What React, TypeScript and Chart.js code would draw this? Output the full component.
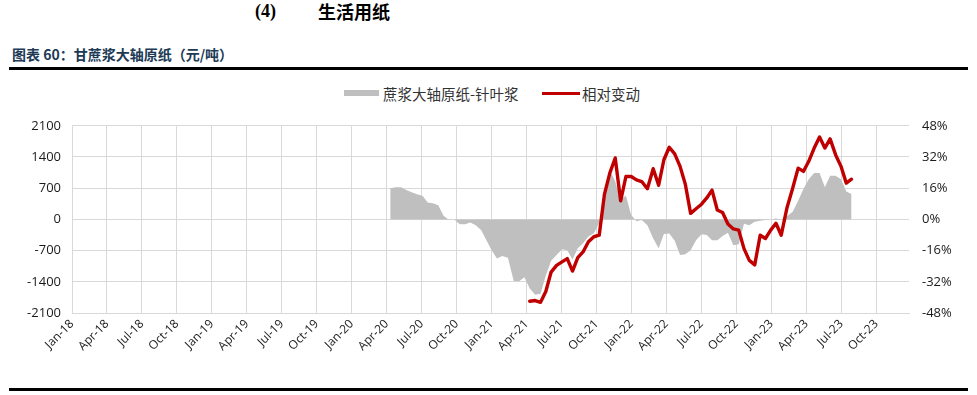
import React, { useEffect, useRef } from "react";
import { Chart, registerables } from "chart.js";

Chart.register(...registerables);

// ---- data ----
const xTickLabels = [
  "Jan-18", "Apr-18", "Jul-18", "Oct-18",
  "Jan-19", "Apr-19", "Jul-19", "Oct-19",
  "Jan-20", "Apr-20", "Jul-20", "Oct-20",
  "Jan-21", "Apr-21", "Jul-21", "Oct-21",
  "Jan-22", "Apr-22", "Jul-22", "Oct-22",
  "Jan-23", "Apr-23", "Jul-23", "Oct-23",
];
const leftTicks = [-2100, -1400, -700, 0, 700, 1400, 2100];
const rightTicks = [-48, -32, -16, 0, 16, 32, 48];

const graySeriesName = "蔗浆大轴原纸-针叶浆";
const redSeriesName = "相对变动";

const grayStart = "2020-04-10";
const redStart = "2021-04-09";
const stepDays = 14;

// 蔗浆大轴原纸-针叶浆 (元/吨), biweekly
const grayValues = [
  700, 720, 720, 660, 610, 565, 530, 380, 360, 320,
  80, -15, 0, -110, -110, -70, -130, -240, -470, -690,
  -880, -820, -860, -1380, -1390, -1300, -1550, -1690, -1670, -1260,
  -930, -800, -670, -690, -900, -650, -535, -385, -310, -80,
  595, 1100, 850, 450, 530, 100, -40, -15, -130, -430,
  -650, -330, -315, -480, -800, -780, -690, -470, -335, -350,
  -470, -470, -370, -300, -580, -560, -100, -130, -50, -30,
  -15, 0, 20, 0, 70, 170, 420, 680, 900, 1040,
  1040, 720, 980, 980, 900, 625, 570,
];

// 相对变动 (%), biweekly
const redValues = [
  -42.0, -41.6, -42.5, -37, -27, -23.6, -21.8, -20.1, -26.5, -19.6,
  -16.7, -11.5, -8.9, -8.1, 13, 23.7, 31.5, 9.5, 22, 22,
  20.3, 19.4, 15.7, 26, 17.5, 30.6, 37, 33.6, 27.2, 18,
  3.1, 5.5, 7.8, 11, 15, 4.8, 3.5, -2.4, -4.9, -5.5,
  -15, -21, -23.3, -8.1, -9.8, -5.5, -2, -8.1, 5.7, 16,
  26.3, 24.6, 29.8, 36.6, 42.3, 36.6, 41.3, 33.2, 27.2, 18.6,
  20.6,
];

function monthsSince2018(iso: string, offsetDays: number): number {
  const d = new Date(iso + "T00:00:00Z");
  d.setUTCDate(d.getUTCDate() + offsetDays);
  const y = d.getUTCFullYear();
  const m = d.getUTCMonth();
  const day = d.getUTCDate();
  const dim = new Date(Date.UTC(y, m + 1, 0)).getUTCDate();
  return (y - 2018) * 12 + m + (day - 1) / dim;
}

const FONT = "'Open Sans', 'DejaVu Sans', sans-serif";
const CJK = "'Noto Sans CJK SC', 'Noto Sans', sans-serif";
const GRID = "#d9d9d9";

export default function App() {
  const canvasRef = useRef<HTMLCanvasElement | null>(null);

  useEffect(() => {
    const canvas = canvasRef.current;
    if (!canvas) return;
    const grayPts = grayValues.map((v, i) => ({ x: monthsSince2018(grayStart, i * stepDays), y: v }));
    const redPts = redValues.map((v, i) => ({ x: monthsSince2018(redStart, i * stepDays), y: v }));
    const tickMonths = xTickLabels.map((_, i) => i * 3);

    const chart = new Chart(canvas, {
      type: "line",
      data: {
        datasets: [
          {
            label: redSeriesName,
            data: redPts,
            yAxisID: "yR",
            borderColor: "#c00000",
            borderWidth: 3.4,
            pointRadius: 0,
            fill: false,
            tension: 0,
            order: 0,
            borderJoinStyle: "round",
            borderCapStyle: "round",
          },
          {
            label: graySeriesName,
            data: grayPts,
            yAxisID: "yL",
            borderWidth: 0,
            borderColor: "rgba(0,0,0,0)",
            backgroundColor: "#bfbfbf",
            pointRadius: 0,
            fill: "origin",
            tension: 0,
            order: 1,
          },
        ],
      },
      options: {
        animation: false,
        responsive: false,
        devicePixelRatio: 1,
        layout: { padding: { top: 0, left: 0, right: 0, bottom: 0 } },
        plugins: { legend: { display: false }, tooltip: { enabled: false } },
        scales: {
          x: {
            type: "linear",
            position: "bottom",
            min: 0,
            max: 71.8,
            grid: { color: GRID, lineWidth: 1, drawTicks: false },
            border: { display: true, color: GRID, width: 1 },
            ticks: {
              autoSkip: false,
              maxRotation: 45,
              minRotation: 45,
              padding: 4,
              color: "#1a1a1a",
              font: { family: FONT, size: 12 },
              callback: (v: any) => {
                const idx = Math.round(Number(v) / 3);
                return Number(v) % 3 === 0 && xTickLabels[idx] ? xTickLabels[idx] : "";
              },
            },
            afterBuildTicks: (scale: any) => {
              scale.ticks = tickMonths.map((v) => ({ value: v }));
            },
            afterFit: (scale: any) => {
              scale.height = 67;
            },
          },
          yL: {
            type: "linear",
            position: "left",
            min: leftTicks[0],
            max: leftTicks[leftTicks.length - 1],
            grid: { color: GRID, lineWidth: 1, drawTicks: false },
            border: { display: false },
            ticks: {
              stepSize: 700,
              padding: 11,
              color: "#1a1a1a",
              font: { family: FONT, size: 13 },
              callback: (v: any) => String(v),
            },
            afterBuildTicks: (scale: any) => {
              scale.ticks = leftTicks.map((v) => ({ value: v }));
            },
            afterFit: (scale: any) => {
              scale.width = 72;
            },
          },
          yR: {
            type: "linear",
            position: "right",
            min: rightTicks[0],
            max: rightTicks[rightTicks.length - 1],
            grid: { display: false, drawTicks: false },
            border: { display: false },
            ticks: {
              stepSize: 16,
              padding: 13,
              color: "#1a1a1a",
              font: { family: FONT, size: 13 },
              callback: (v: any) => `${v}%`,
            },
            afterBuildTicks: (scale: any) => {
              scale.ticks = rightTicks.map((v) => ({ value: v }));
            },
            afterFit: (scale: any) => {
              scale.width = 68;
            },
          },
        },
      },
    } as any);
    return () => chart.destroy();
  }, []);

  return (
    <div
      style={{
        position: "absolute",
        left: 0,
        top: 0,
        width: 977,
        height: 395,
        background: "#ffffff",
        overflow: "hidden",
      }}
    >
      <div
        style={{
          position: "absolute",
          left: 255,
          top: 1,
          fontFamily: "'Liberation Serif', 'Times New Roman', serif",
          fontWeight: 700,
          fontSize: 18,
          lineHeight: "20px",
          color: "#000",
          whiteSpace: "nowrap",
        }}
      >
        (4)
      </div>
      <div
        style={{
          position: "absolute",
          left: 318,
          top: 1,
          fontFamily: CJK,
          fontWeight: 700,
          fontSize: 18,
          lineHeight: "20px",
          color: "#000",
          whiteSpace: "nowrap",
        }}
      >
        生活用纸
      </div>
      <div
        style={{
          position: "absolute",
          left: 12,
          top: 45,
          fontFamily: CJK,
          fontWeight: 700,
          fontSize: 14,
          lineHeight: "18px",
          color: "#203a56",
          whiteSpace: "nowrap",
        }}
      >
        图表 60：甘蔗浆大轴原纸（元/吨）
      </div>
      <div style={{ position: "absolute", left: 9, top: 67, width: 959, height: 3, background: "#000" }} />

      {/* legend */}
      <div style={{ position: "absolute", left: 344, top: 90, width: 35, height: 6, background: "#bfbfbf" }} />
      <div
        style={{
          position: "absolute",
          left: 383,
          top: 85,
          fontFamily: CJK,
          fontSize: 14.5,
          lineHeight: "18px",
          color: "#333",
          whiteSpace: "nowrap",
        }}
      >
        {graySeriesName}
      </div>
      <div style={{ position: "absolute", left: 542, top: 92, width: 38, height: 3, background: "#c00000" }} />
      <div
        style={{
          position: "absolute",
          left: 582,
          top: 85,
          fontFamily: CJK,
          fontSize: 14.5,
          lineHeight: "18px",
          color: "#333",
          whiteSpace: "nowrap",
        }}
      >
        {redSeriesName}
      </div>

      <canvas
        ref={canvasRef}
        width={977}
        height={275}
        style={{ position: "absolute", left: 0, top: 105, width: 977, height: 275 }}
      />
      <div style={{ position: "absolute", left: 9, top: 388, width: 959, height: 3, background: "#000" }} />
    </div>
  );
}
